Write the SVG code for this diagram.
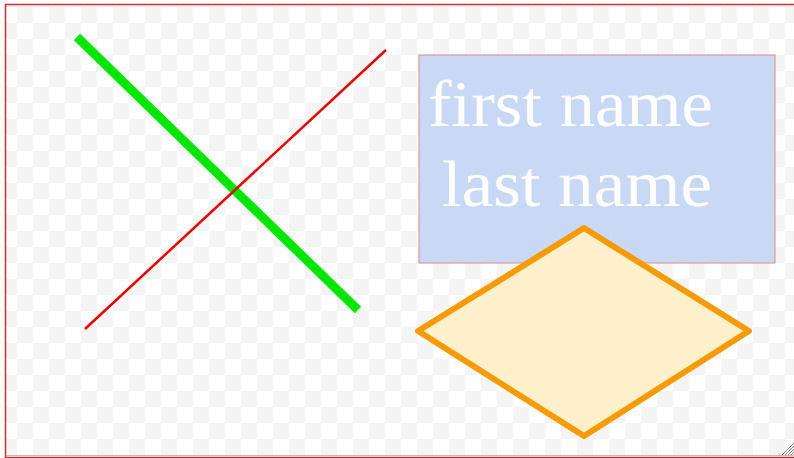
<svg xmlns="http://www.w3.org/2000/svg" width="794" height="458" viewBox="0 0 794 458">
  <defs>
    <pattern id="checker" x="1" y="7" width="32" height="32" patternUnits="userSpaceOnUse">
      <rect width="32" height="32" fill="#ffffff"/>
      <rect x="16" y="0" width="16" height="16" fill="#f4f4f4"/>
      <rect x="0" y="16" width="16" height="16" fill="#f4f4f4"/>
    </pattern>
    <style>
      .label { font-family: "Liberation Serif", "DejaVu Serif", serif; font-size: 66px; fill: #ffffff; }
    </style>
  </defs>
  <rect width="794" height="458" fill="#ffffff"/>
  <rect x="6" y="6" width="788" height="450" fill="url(#checker)"/>
  <g id="frame">
    <line x1="5" y1="4.5" x2="794" y2="4.5" stroke="#d42a2a" stroke-width="1.5"/>
    <line x1="5" y1="6.5" x2="794" y2="6.5" stroke="#e6e6e6" stroke-width="1"/>
    <line x1="5.5" y1="4" x2="5.5" y2="458" stroke="#d42a2a" stroke-width="1.5"/>
    <line x1="6" y1="455.5" x2="794" y2="455.5" stroke="#bdbdbd" stroke-width="1"/>
    <line x1="5" y1="457.5" x2="794" y2="457.5" stroke="#d42a2a" stroke-width="1.5"/>
    <g stroke="#7a7a7a" stroke-width="1">
      <line x1="782" y1="455" x2="794" y2="443"/>
      <line x1="785" y1="455" x2="794" y2="446"/>
      <line x1="788" y1="455" x2="794" y2="449"/>
      <line x1="791" y1="455" x2="794" y2="452"/>
    </g>
  </g>
  <g id="connectors">
    <line id="green-line" x1="77" y1="37" x2="358" y2="310" stroke="#00e600" stroke-width="9"/>
    <line id="red-line" x1="386" y1="50" x2="85" y2="329" stroke="#e60000" stroke-width="2.5"/>
  </g>
  <g id="name-box">
    <rect x="419" y="55" width="356" height="208" fill="#c9d9f5" stroke="#e08a8a" stroke-width="1"/>
    <text class="label" x="428" y="126" textLength="285" lengthAdjust="spacingAndGlyphs">first name</text>
    <text class="label" x="442" y="206" textLength="270" lengthAdjust="spacingAndGlyphs">last name</text>
  </g>
  <g id="diamond">
    <polygon points="584,228 749,331 584,436 418,331" fill="#fff0cc" stroke="#f59b00" stroke-width="6" stroke-linejoin="round"/>
  </g>
</svg>
